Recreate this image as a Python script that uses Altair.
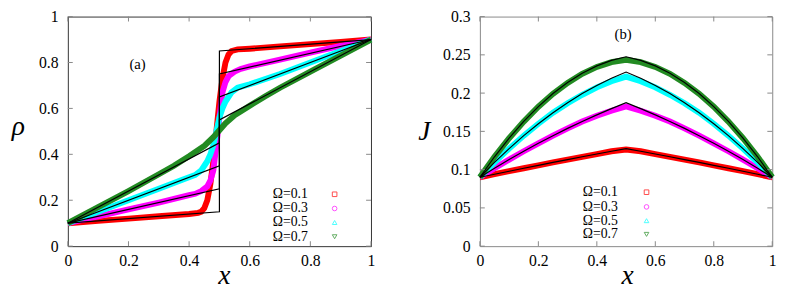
import altair as alt
import pandas as pd

omegas = ["0.1", "0.3", "0.5", "0.7"]
colors = ["#ff0000", "#ff00ff", "#00ffff", "#228b22"]
shapes = ["square", "circle", "triangle-up", "triangle-down"]
legend_text = ["Ω=0.1", "Ω=0.3", "Ω=0.5", "Ω=0.7"]

# ---------------- panel (a): density profiles (simulation bands) -------------
a_x_01 = [0, 0.1, 0.2, 0.3, 0.4, 0.43, 0.44, 0.45, 0.46, 0.47, 0.48, 0.49, 0.50, 0.51, 0.52, 0.53, 0.54, 0.56, 0.6, 0.7, 0.8, 0.9, 1.0]
a_y_01 = [0.1, 0.11, 0.12, 0.13, 0.14, 0.145, 0.15, 0.165, 0.2, 0.27, 0.37, 0.5, 0.63, 0.73, 0.8, 0.835, 0.85, 0.857, 0.86, 0.87, 0.88, 0.89, 0.9]
a_x_03 = [0, 0.1, 0.2, 0.3, 0.4, 0.42, 0.44, 0.46, 0.47, 0.48, 0.49, 0.50, 0.51, 0.52, 0.53, 0.55, 0.57, 0.6, 0.7, 0.8, 0.9, 1.0]
a_y_03 = [0.1, 0.13, 0.16, 0.19, 0.222, 0.228, 0.24, 0.26, 0.285, 0.33, 0.44, 0.56, 0.67, 0.715, 0.74, 0.76, 0.772, 0.783, 0.813, 0.843, 0.872, 0.9]
a_x_05 = [0, 0.1, 0.2, 0.3, 0.38, 0.42, 0.44, 0.46, 0.47, 0.48, 0.49, 0.50, 0.51, 0.52, 0.54, 0.56, 0.6, 0.7, 0.8, 0.9, 1.0]
a_y_05 = [0.1, 0.15, 0.2, 0.25, 0.29, 0.31, 0.33, 0.37, 0.4, 0.44, 0.5, 0.56, 0.6, 0.63, 0.67, 0.69, 0.705, 0.75, 0.8, 0.85, 0.9]
a_x_07 = [0, 0.1, 0.2, 0.3, 0.35, 0.4, 0.45, 0.48, 0.5, 0.52, 0.55, 0.6, 0.65, 0.7, 0.8, 0.9, 1.0]
a_y_07 = [0.1, 0.17, 0.24, 0.313, 0.35, 0.392, 0.437, 0.475, 0.505, 0.535, 0.57, 0.612, 0.652, 0.69, 0.76, 0.83, 0.9]

# panel (a): theory (black) piecewise lines
a_th_x = [0, 0.5, 0.5, 1.0]
a_th_01 = [0.1, 0.15, 0.85, 0.9]
a_th_03 = [0.1, 0.25, 0.75, 0.9]
a_th_05 = [0.1, 0.35, 0.65, 0.9]
a_th_07 = [0.1, 0.45, 0.55, 0.9]

# ---------------- panel (b): current profiles -------------------------------
b_x = [0, 0.05, 0.1, 0.15, 0.2, 0.25, 0.3, 0.35, 0.4, 0.45, 0.5, 0.55, 0.6, 0.65, 0.7, 0.75, 0.8, 0.85, 0.9, 0.95, 1.0]
b_y_01 = [0.09, 0.094, 0.098, 0.1018, 0.1056, 0.1094, 0.1131, 0.1168, 0.1204, 0.124, 0.1262, 0.124, 0.1204, 0.1168, 0.1131, 0.1094, 0.1056, 0.1018, 0.098, 0.094, 0.09]
b_y_03 = [0.09, 0.1018, 0.1131, 0.124, 0.1344, 0.1444, 0.1539, 0.1628, 0.1705, 0.177, 0.1825, 0.177, 0.1705, 0.1628, 0.1539, 0.1444, 0.1344, 0.124, 0.1131, 0.1018, 0.09]
b_y_05 = [0.09, 0.1094, 0.1275, 0.1444, 0.16, 0.1744, 0.1868, 0.1978, 0.2075, 0.2155, 0.2215, 0.2155, 0.2075, 0.1978, 0.1868, 0.1744, 0.16, 0.1444, 0.1275, 0.1094, 0.09]
b_y_07 = [0.09, 0.1168, 0.141, 0.1628, 0.1822, 0.199, 0.2133, 0.2252, 0.2342, 0.2405, 0.2435, 0.2405, 0.2342, 0.2252, 0.2133, 0.199, 0.1822, 0.1628, 0.141, 0.1168, 0.09]

b_th_x = [0, 0.05, 0.1, 0.15, 0.2, 0.25, 0.3, 0.35, 0.4, 0.45, 0.5, 0.55, 0.6, 0.65, 0.7, 0.75, 0.8, 0.85, 0.9, 0.95, 1.0]
b_th_01 = [0.09, 0.0940, 0.0979, 0.1018, 0.1056, 0.1094, 0.1131, 0.1168, 0.1204, 0.1240, 0.1275, 0.1240, 0.1204, 0.1168, 0.1131, 0.1094, 0.1056, 0.1018, 0.0979, 0.0940, 0.09]
b_th_03 = [0.09, 0.1018, 0.1131, 0.1240, 0.1344, 0.1444, 0.1539, 0.1630, 0.1716, 0.1797, 0.1875, 0.1797, 0.1716, 0.1630, 0.1539, 0.1444, 0.1344, 0.1240, 0.1131, 0.1018, 0.09]
b_th_05 = [0.09, 0.1094, 0.1275, 0.1444, 0.16, 0.1744, 0.1875, 0.1994, 0.21, 0.2194, 0.2275, 0.2194, 0.21, 0.1994, 0.1875, 0.1744, 0.16, 0.1444, 0.1275, 0.1094, 0.09]
b_th_07 = [0.09, 0.1168, 0.1411, 0.1630, 0.1824, 0.1994, 0.2139, 0.2260, 0.2356, 0.2428, 0.2475, 0.2428, 0.2356, 0.2260, 0.2139, 0.1994, 0.1824, 0.1630, 0.1411, 0.1168, 0.09]

# ticks
a_xticks = [0, 0.2, 0.4, 0.6, 0.8, 1.0]
a_yticks = [0, 0.2, 0.4, 0.6, 0.8, 1.0]
b_xticks = [0, 0.2, 0.4, 0.6, 0.8, 1.0]
b_yticks = [0, 0.05, 0.1, 0.15, 0.2, 0.25, 0.3]

# legend / annotation placement (data coordinates)
a_leg_y = [0.226, 0.164, 0.103, 0.041]
b_leg_y = [0.0705, 0.0513, 0.0333, 0.0154]

SERIF = "Liberation Serif"


def long_df(xs_list, ys_list):
    rows = []
    for om, xs, ys in zip(omegas, xs_list, ys_list):
        for i, (xv, yv) in enumerate(zip(xs, ys)):
            rows.append({"x": xv, "y": yv, "s": om, "i": i})
    return pd.DataFrame(rows)


def panel(band_df, th_df, xticks, yticks, ydom, ytitle, W, H, ytx, yty, xtx,
          label_txt, label_pos, leg_x_text, leg_x_mark, leg_y, leg_size, frame):
    xscale = alt.Scale(domain=[0, 1], nice=False, zero=False)
    yscale = alt.Scale(domain=ydom, nice=False, zero=False)
    common = dict(grid=False, ticks=False, domain=False, labelFlush=False,
                  labelFont=SERIF, labelFontSize=16, labelColor="black",
                  titleFont=SERIF, titleFontStyle="italic", titleFontWeight="normal",
                  titleFontSize=28, titleColor="black", titleBaseline="alphabetic",
                  titleAlign="center", format="~g")
    xaxis = alt.Axis(values=xticks, title="x", titleX=xtx, titleY=38, labelPadding=7, **common)
    yaxis = alt.Axis(values=yticks, title=ytitle, titleAngle=0,
                     titleX=ytx, titleY=yty, labelPadding=10, **common)
    X = lambda f: alt.X(f, type="quantitative", scale=xscale, axis=xaxis)
    Y = lambda f: alt.Y(f, type="quantitative", scale=yscale, axis=yaxis)
    cscale = alt.Scale(domain=omegas, range=colors)

    bands = alt.Chart(band_df).mark_line(strokeWidth=6, strokeCap="butt").encode(
        x=X("x"), y=Y("y"),
        color=alt.Color("s:N", scale=cscale, legend=None),
        order=alt.Order("i:Q"))
    theory = alt.Chart(th_df).mark_line(strokeWidth=1.2, color="black").encode(
        x=X("x"), y=Y("y"), detail="s:N", order=alt.Order("i:Q"))

    tx = pd.DataFrame({"x": xticks})
    ty = pd.DataFrame({"y": yticks})
    tick_color = "#888888"
    tb = alt.Chart(tx).mark_rule(color=tick_color).encode(x=X("x"), y=alt.value(H), y2=alt.value(H - 5))
    tt = alt.Chart(tx).mark_rule(color=tick_color).encode(x=X("x"), y=alt.value(0), y2=alt.value(5))
    tl = alt.Chart(ty).mark_rule(color=tick_color).encode(y=Y("y"), x=alt.value(0), x2=alt.value(5))
    tr = alt.Chart(ty).mark_rule(color=tick_color).encode(y=Y("y"), x=alt.value(W), x2=alt.value(W - 5))

    lab = alt.Chart(pd.DataFrame({"x": [label_pos[0]], "y": [label_pos[1]], "t": [label_txt]})).mark_text(
        font=SERIF, fontSize=15, color="black").encode(x=X("x"), y=Y("y"), text="t:N")

    leg_df = pd.DataFrame({"t": legend_text, "s": omegas, "y": leg_y,
                           "xt": [leg_x_text] * 4, "xm": [leg_x_mark] * 4, "sh": shapes})
    leg_t = alt.Chart(leg_df).mark_text(font=SERIF, fontSize=leg_size, align="left",
                                        baseline="middle", color="black").encode(
        x=X("xt"), y=Y("y"), text="t:N")
    leg_m = alt.Chart(leg_df).mark_point(filled=False, size=22, strokeWidth=1).encode(
        x=X("xm"), y=Y("y"),
        color=alt.Color("s:N", scale=cscale, legend=None),
        shape=alt.Shape("sh:N", scale=None, legend=None))

    return alt.layer(bands, theory, tb, tt, tl, tr, lab, leg_t, leg_m).properties(
        width=W, height=H, view=alt.ViewBackground(stroke=frame, strokeWidth=1))


a_band = long_df([a_x_01, a_x_03, a_x_05, a_x_07], [a_y_01, a_y_03, a_y_05, a_y_07])
a_th = long_df([a_th_x] * 4, [a_th_01, a_th_03, a_th_05, a_th_07])
b_band = long_df([b_x] * 4, [b_y_01, b_y_03, b_y_05, b_y_07])
b_th = long_df([b_th_x] * 4, [b_th_01, b_th_03, b_th_05, b_th_07])

left = panel(a_band, a_th, a_xticks, a_yticks, [0, 1], "ρ", 309, 234, -51, 120, 159,
             "(a)", (0.23, 0.795), 0.676, 0.880, a_leg_y, 14, "#333333")
right = panel(b_band, b_th, b_xticks, b_yticks, [0, 0.3], "J", 298, 234, -57, 125, 150,
              "(b)", (0.49, 0.277), 0.352, 0.570, b_leg_y, 14, "#888888")

chart = alt.hconcat(left, right, spacing=34).properties(
    padding={"left": 2, "top": -3, "right": 0, "bottom": 0},
    background="white"
).configure(style={"guide-label": {"font": SERIF}, "guide-title": {"font": SERIF}})

chart.save("out.html", embed_options={"renderer": "svg", "actions": False})
